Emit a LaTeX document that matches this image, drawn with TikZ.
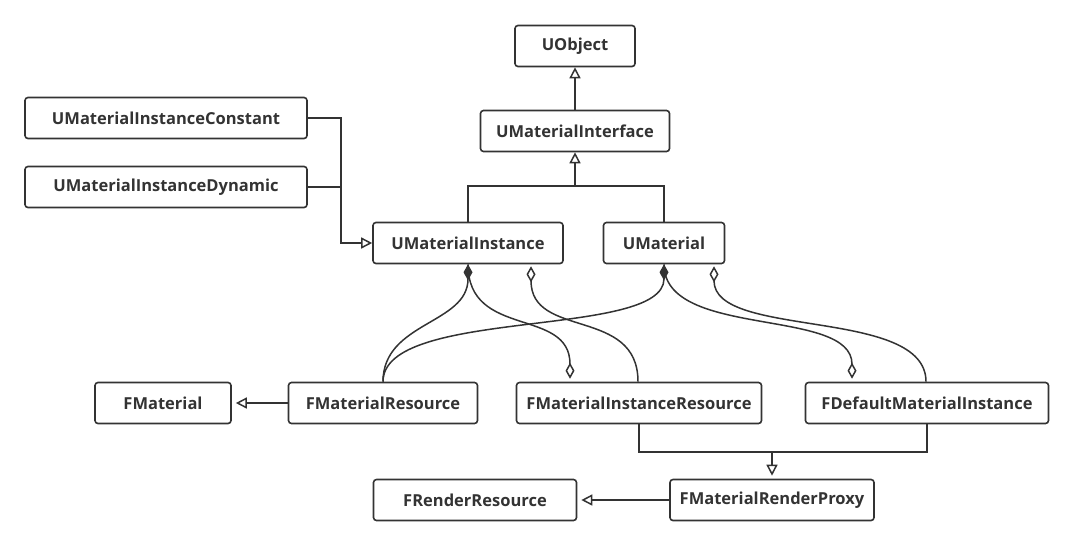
\documentclass[tikz,border=0pt]{standalone}
\usepackage{fontspec}
\setmainfont{Open Sans}
\usetikzlibrary{arrows.meta}
\definecolor{ink}{HTML}{333333}
\tikzset{
  cls/.style={draw=ink, line width=1.6pt, rounded corners=3pt, fill=white, text=ink,
    minimum height=41pt, inner sep=0pt, font=\bfseries\fontsize{16.5}{19}\selectfont},
  link/.style={draw=ink, line width=1.5pt},
  inherit/.style={link, -{Triangle[open, length=11pt, width=11pt, line width=1.5pt]}},
  compos/.style={link, {Diamond[length=16pt, width=9pt, fill=ink]}-},
  aggr/.style={link, shorten <=2pt, {Diamond[open, length=16pt, width=9pt, line width=1.5pt]}-},
}
\begin{document}
\begin{tikzpicture}[x=1pt, y=-1pt]
    \useasboundingbox (0,0) rectangle (1073,547);

    \node[cls, minimum width=120pt] (uobj)  at (575,46)  {UObject};
    \node[cls, minimum width=189pt] (iface) at (575,131) {UMaterialInterface};
    \node[cls, minimum width=282pt] (umic)  at (166,118) {UMaterialInstanceConstant};
    \node[cls, minimum width=282pt] (umid)  at (166,187) {UMaterialInstanceDynamic};
    \node[cls, minimum width=190pt] (umi)   at (468,243) {UMaterialInstance};
    \node[cls, minimum width=121pt] (umat)  at (664,243) {UMaterial};
    \node[cls, minimum width=136pt] (fmat)  at (163,403) {FMaterial};
    \node[cls, minimum width=189pt] (fmres) at (383,403) {FMaterialResource};
    \node[cls, minimum width=245pt] (fmir)  at (639,403) {FMaterialInstanceResource};
    \node[cls, minimum width=243pt] (fdmi)  at (927,403) {FDefaultMaterialInstance};
    \node[cls, minimum width=203pt] (frr)   at (475,500) {FRenderResource};
    \node[cls, minimum width=204pt] (proxy) at (772,500) {FMaterialRenderProxy};

    \coordinate (j1) at (575,186);
    \coordinate (j2) at (341,187);
    \coordinate (j3) at (772,452);

    \draw[inherit] (iface) -- (uobj);
    \draw[link] (umi.north) |- (j1) -| (umat.north);
    \draw[inherit] (j1) -- (iface);

    \draw[link] (umic.east) -| (j2);
    \draw[link] (umid.east) -- (j2);
    \draw[inherit] (j2) |- (umi.west);

    \draw[inherit, shorten >=4pt] (fmres) -- (fmat);
    \draw[inherit, shorten >=4pt] (proxy) -- (frr);
    \draw[link] (fmir.south) |- (j3) -| (fdmi.south);
    \draw[inherit, shorten >=3pt] (j3) -- (proxy);

    \draw[compos] (umi.south) .. controls +(0,60) and +(0,-60) .. (fmres.north);
    \draw[compos, -{Diamond[open, length=16pt, width=9pt, line width=1.5pt]}, shorten >=3pt]
        (umi.south) .. controls +(0,75) and +(0,-75) .. ([xshift=-69pt]fmir.north);
    \draw[aggr] ([xshift=63pt]umi.south) .. controls +(0,75) and +(0,-75) .. ([xshift=-1pt]fmir.north);

    \draw[compos] (umat.south) .. controls +(0,75) and +(0,-75) .. (fmres.north);
    \draw[compos, -{Diamond[open, length=16pt, width=9pt, line width=1.5pt]}, shorten >=3pt]
        (umat.south) .. controls +(0,75) and +(0,-75) .. ([xshift=-75pt]fdmi.north);
    \draw[aggr] ([xshift=50pt]umat.south) .. controls +(0,75) and +(0,-75) .. ([xshift=-1pt]fdmi.north);
\end{tikzpicture}
\end{document}
